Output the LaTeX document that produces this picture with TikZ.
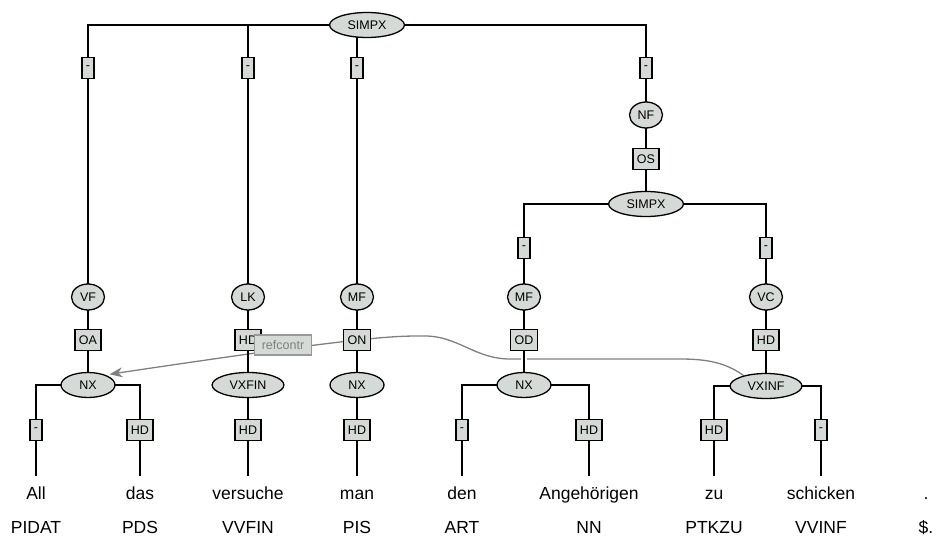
\documentclass[tikz,border=0pt]{standalone}
\usepackage{fontspec}
\setmainfont{Liberation Sans}
\usetikzlibrary{shapes.geometric, arrows.meta, backgrounds}

\definecolor{nodegray}{RGB}{214,218,214}
\definecolor{refgray}{RGB}{128,128,128}

\begin{document}
\begin{tikzpicture}[x=1pt, y=-1pt,
    cat/.style = {draw, ellipse, fill=nodegray, line width=1.3pt, inner xsep=7pt, inner ysep=1pt,
                  minimum width=54pt, minimum height=25pt, font=\fontsize{12.5}{14}\selectfont},
    field/.style = {draw, ellipse, fill=nodegray, line width=1.3pt, inner sep=1.5pt,
                    minimum width=33pt, minimum height=26pt, font=\fontsize{12.5}{14}\selectfont},
    func/.style = {draw, rectangle, fill=nodegray, line width=1.3pt, inner xsep=4pt, inner ysep=0pt,
                   minimum height=21pt, font=\fontsize{12.5}{14}\selectfont},
    word/.style = {anchor=base, font=\fontsize{17.5}{20}\selectfont, text height=13pt, text depth=4pt, inner ysep=10pt},
    tagtext/.style = {anchor=base, font=\fontsize{17.5}{20}\selectfont},
    tree/.style = {line width=1.3pt},
    crossing/.style = {preaction={draw=white, line width=6pt}},
    refedge/.style = {draw=refgray, line width=1.3pt, shorten >=4pt, -{Stealth[length=13pt, width=10pt]}},
    reflabel/.style = {draw=refgray!80, fill=nodegray, text=refgray, line width=1.3pt, inner xsep=7pt,
                       minimum height=20pt, font=\fontsize{12.5}{14}\selectfont}]
    \useasboundingbox (0, 0) rectangle (933, 537);

    % upper tree
    \node[cat] at (367, 25) (s1) {SIMPX};
    \node[func] at (88, 68) (f1) {-};
    \node[func] at (248, 68) (f2) {-};
    \node[func] at (357, 68) (f3) {-};
    \node[func] at (646, 68) (f4) {-};
    \node[field] at (646, 115) (nf) {NF};
    \node[func] at (646, 159) (os) {OS};
    \node[cat] at (646, 204) (s2) {SIMPX};
    \node[func] at (524, 248) (f5) {-};
    \node[func] at (766, 248) (f6) {-};

    % fields
    \node[field] at (88, 297) (vf) {VF};
    \node[field] at (248, 297) (lk) {LK};
    \node[field] at (357, 297) (mf1) {MF};
    \node[field] at (524, 297) (mf2) {MF};
    \node[field] at (766, 297) (vc) {VC};

    \node[func] at (88, 340) (oa) {OA};
    \node[func] at (248, 340) (hd1) {HD};
    \node[func] at (357, 340) (on) {ON};
    \node[func] at (524, 340) (od) {OD};
    \node[func] at (766, 340) (hd2) {HD};

    % phrases
    \node[cat] at (88, 385) (nx1) {NX};
    \node[cat] at (248, 385) (vxfin) {VXFIN};
    \node[cat] at (357, 385) (nx2) {NX};
    \node[cat] at (524, 385) (nx3) {NX};
    \node[cat] at (766, 386) (vxinf) {VXINF};

    % terminals
    \foreach \x/\e/\w/\p [count=\i] in {36/-/All/PIDAT, 140/HD/das/PDS, 248/HD/versuche/VVFIN,
        357/HD/man/PIS, 462/-/den/ART, 589/HD/Angehörigen/NN, 714/HD/zu/PTKZU, 821/-/schicken/VVINF} {
        \node[func] at (\x, 430) (g\i) {\e};
        \node[word] at (\x, 499) (w\i) {\w};
        \node[tagtext] at (\x, 533) (p\i) {\p};
    }
    \node[word] at (926, 499) (w9) {.};
    \node[tagtext] at (926, 533) (p9) {\$.};

    \node[reflabel] at (283, 345) (rc) {refcontr};

    \begin{scope}[on background layer]
        \draw[refedge] (vxinf.155) .. controls (725, 362) and (705, 359) .. (680, 359) -- (510, 359)
            .. controls (475, 359) and (458, 336) .. (425, 336) .. controls (395, 336) and (372, 335) .. (nx1.30);

        \draw[tree] (s1.center) -| (f1.center) -- (vf.center) -- (oa.center) -- (nx1.center);
        \draw[tree] (s1.center) -| (f2.center) -- (lk.center) -- (hd1.center) -- (vxfin.center);
        \draw[tree] (s1.center) -| (f3.center) -- (mf1.center) -- (on.center) -- (nx2.center);
        \draw[tree] (s1.center) -| (f4.center) -- (nf.center) -- (os.center) -- (s2.center);
        \draw[tree] (s2.center) -| (f5.center) -- (mf2.center) -- (od.center);
        \draw[tree, crossing] (od.center) -- (nx3.center);
        \draw[tree] (s2.center) -| (f6.center) -- (vc.center) -- (hd2.center) -- (vxinf.center);

        \draw[tree] (nx1.center) -| (g1.center);
        \draw[tree] (nx1.center) -| (g2.center);
        \draw[tree] (vxfin.center) -- (g3.center);
        \draw[tree] (nx2.center) -- (g4.center);
        \draw[tree] (nx3.center) -| (g5.center);
        \draw[tree] (nx3.center) -| (g6.center);
        \draw[tree] (vxinf.center) -| (g7.center);
        \draw[tree] (vxinf.center) -| (g8.center);
        \foreach \i in {1,...,8}
            \draw[tree] (g\i.center) -- (w\i);
    \end{scope}
\end{tikzpicture}
\end{document}
